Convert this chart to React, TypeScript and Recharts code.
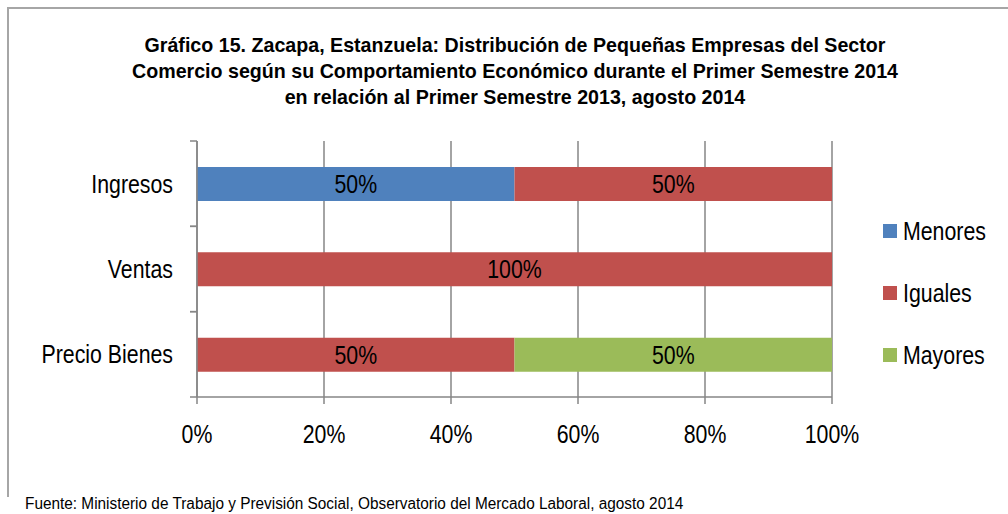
import React from "react";
import {
  BarChart,
  Bar,
  XAxis,
  YAxis,
  CartesianGrid,
  LabelList,
} from "recharts";

const categories = ["Ingresos", "Ventas", "Precio Bienes"];
const menores = [50, 0, 0];
const iguales = [50, 100, 50];
const mayores = [0, 0, 50];
const xTicks = [0, 20, 40, 60, 80, 100];

const series = [
  { key: "menores", name: "Menores", color: "#4F81BD" },
  { key: "iguales", name: "Iguales", color: "#C0504D" },
  { key: "mayores", name: "Mayores", color: "#9BBB59" },
];

const titleLines = [
  "Gráfico 15. Zacapa, Estanzuela: Distribución de Pequeñas Empresas del Sector",
  "Comercio según su Comportamiento Económico durante el Primer Semestre 2014",
  "en relación al Primer Semestre 2013, agosto 2014",
];

const source =
  "Fuente: Ministerio de Trabajo y Previsión Social, Observatorio del Mercado Laboral, agosto 2014";

const data = categories.map((c, i) => ({
  name: c,
  menores: menores[i],
  iguales: iguales[i],
  mayores: mayores[i],
}));

// no Arial Narrow here, so squeeze Liberation Sans horizontally
const FONT = '"Liberation Sans", Arial, sans-serif';
const NARROW = 0.82;
const PLOT_TOP = 141;
const PLOT_BOTTOM = 397;
const bandSize = (PLOT_BOTTOM - PLOT_TOP) / categories.length;

const NarrowText = ({ x, y, anchor, size, children }: any) => (
  <text
    transform={`translate(${x} ${y}) scale(${NARROW} 1)`}
    textAnchor={anchor}
    fontSize={size}
    fontFamily={FONT}
    fill="#000"
  >
    {children}
  </text>
);

const CategoryTick = ({ x, y, payload }: any) => (
  <g>
    <NarrowText x={x - 24} y={y + 9} anchor="end" size={26}>
      {payload.value}
    </NarrowText>
    <line x1={x - 7} x2={x} y1={y - bandSize / 2} y2={y - bandSize / 2} stroke="#868686" strokeWidth={1.5} />
    <line x1={x - 7} x2={x} y1={y + bandSize / 2} y2={y + bandSize / 2} stroke="#868686" strokeWidth={1.5} />
  </g>
);

const PercentTick = ({ x, payload }: any) => (
  <NarrowText x={x} y={PLOT_BOTTOM + 46} anchor="middle" size={26}>
    {`${payload.value}%`}
  </NarrowText>
);

const BarLabel = ({ x, y, width, height, value }: any) =>
  value ? (
    <NarrowText x={x + width / 2} y={y + height / 2 + 9} anchor="middle" size={26}>
      {`${value}%`}
    </NarrowText>
  ) : null;

export default function App() {
  return (
    <div
      style={{
        position: "absolute",
        left: 0,
        top: 0,
        width: 1008,
        height: 514,
        background: "#fff",
        fontFamily: FONT,
        overflow: "hidden",
      }}
    >
      <div
        style={{
          position: "absolute",
          left: 7,
          top: 7,
          width: 1010,
          height: 488,
          borderLeft: "2px solid #a6a6a6",
          borderTop: "2px solid #a6a6a6",
        }}
      />
      <div
        style={{
          position: "absolute",
          left: 0,
          top: 32,
          width: 1030,
          textAlign: "center",
          fontWeight: "bold",
          fontSize: 21,
          lineHeight: "26px",
          color: "#000",
          transform: "scaleX(0.935)",
          transformOrigin: "515px 0",
          whiteSpace: "nowrap",
        }}
      >
        {titleLines.map((l) => (
          <div key={l}>{l}</div>
        ))}
      </div>

      <BarChart
        width={1008}
        height={514}
        data={data}
        layout="vertical"
        margin={{ top: PLOT_TOP, right: 176, bottom: 514 - PLOT_BOTTOM - 50, left: 17 }}
        barSize={34}
      >
        <CartesianGrid horizontal={false} stroke="#868686" strokeWidth={1.5} />
        <XAxis
          type="number"
          domain={[0, 100]}
          ticks={xTicks}
          tick={<PercentTick />}
          tickLine={{ stroke: "#868686", strokeWidth: 1.5 }}
          tickSize={7}
          axisLine={{ stroke: "#868686", strokeWidth: 1.5 }}
          height={50}
          interval={0}
        />
        <YAxis
          type="category"
          dataKey="name"
          width={180}
          tick={<CategoryTick />}
          tickLine={false}
          tickSize={0}
          tickMargin={0}
          axisLine={{ stroke: "#868686", strokeWidth: 1.5 }}
        />
        {series.map((s) => (
          <Bar
            key={s.key}
            dataKey={s.key}
            name={s.name}
            stackId="a"
            fill={s.color}
            isAnimationActive={false}
          >
            <LabelList dataKey={s.key} content={<BarLabel />} />
          </Bar>
        ))}
      </BarChart>

      <div style={{ position: "absolute", left: 883, top: 200 }}>
        {series.map((s) => (
          <div
            key={s.key}
            style={{
              display: "flex",
              alignItems: "center",
              height: 62,
              color: "#000",
            }}
          >
            <span
              style={{
                width: 14,
                height: 14,
                background: s.color,
                marginRight: 6,
                display: "inline-block",
              }}
            />
            <span
              style={{
                fontSize: 26,
                display: "inline-block",
                transform: `scaleX(${NARROW})`,
                transformOrigin: "0 50%",
                whiteSpace: "nowrap",
              }}
            >
              {s.name}
            </span>
          </div>
        ))}
      </div>

      <div
        style={{
          position: "absolute",
          left: 25,
          top: 495,
          fontSize: 16,
          color: "#000",
          whiteSpace: "nowrap",
          transform: "scaleX(0.96)",
          transformOrigin: "0 0",
        }}
      >
        {source}
      </div>
    </div>
  );
}
